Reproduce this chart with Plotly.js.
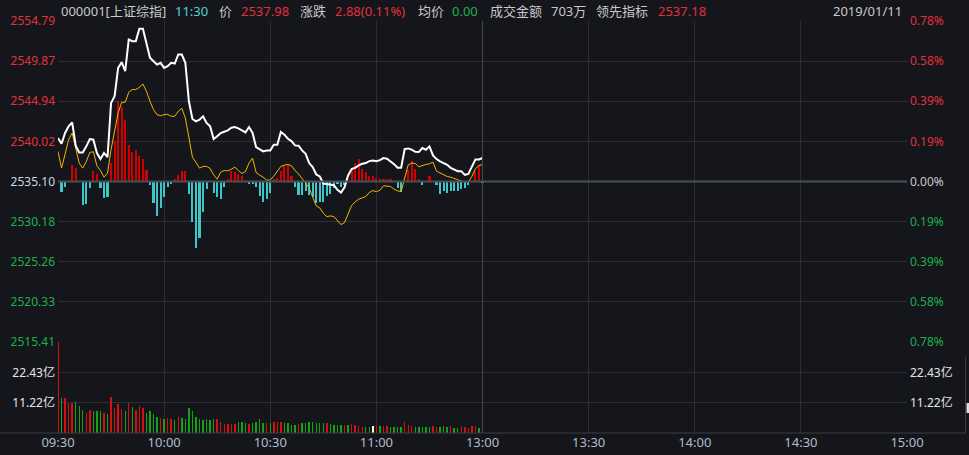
<!DOCTYPE html>
<html>
<head>
<meta charset="utf-8">
<script src="https://cdn.plot.ly/plotly-3.0.1.min.js"></script>
<style>
html,body{margin:0;padding:0;background:#14161b;}
#chart{width:969px;height:455px;}
</style>
</head>
<body>
<div id="chart"></div>
<script>
// ---- data ----
const timeLabels = ['09:30','10:00','10:30','11:00','13:00','13:30','14:00','14:30','15:00'];
const timeTicks = [0,30,60,90,120,150,180,210,240];
const prevClose = 2535.10;
const priceTicks = [2554.79,2549.87,2544.94,2540.02,2535.10,2530.18,2525.26,2520.33,2515.41];
const priceTickText = ['2554.79','2549.87','2544.94','2540.02','2535.10','2530.18','2525.26','2520.33','2515.41'];
const pctTickText = ['0.78%','0.58%','0.39%','0.19%','0.00%','0.19%','0.39%','0.58%','0.78%'];
const volTicks = [11.22,22.43];
const volTickText = ['11.22亿','22.43亿'];

const price = [2540.43,2539.73,2541.05,2541.87,2542.36,2539.49,2538.67,2538.67,2539.41,2540.31,
2540.23,2538.59,2537.85,2538.59,2538.09,2544.74,2545.56,2549.04,2549.74,2548.63,
2552.53,2552.32,2552.32,2553.84,2553.84,2552.12,2550.27,2549.86,2549.45,2549.66,
2549.04,2549.25,2549.66,2549.57,2550.68,2550.68,2549.66,2544.94,2542.77,2542.48,
2542.69,2543.10,2542.28,2541.87,2540.31,2540.64,2541.05,2541.21,2541.37,2541.70,
2541.78,2541.62,2541.33,2541.13,2541.78,2541.05,2539.32,2539.08,2538.79,2538.91,
2538.91,2539.61,2539.61,2541.17,2540.84,2540.35,2540.06,2539.53,2539.49,2538.91,
2538.50,2537.36,2536.86,2535.96,2535.72,2534.85,2534.77,2534.73,2534.65,2534.07,
2533.75,2534.40,2535.84,2536.62,2536.78,2537.07,2537.27,2537.36,2537.60,2537.68,
2537.60,2537.72,2537.97,2537.89,2537.56,2537.23,2536.78,2536.78,2539.08,2539.16,
2539.00,2538.75,2538.71,2539.20,2539.00,2539.41,2538.30,2537.85,2537.56,2537.31,
2537.15,2536.78,2536.54,2536.37,2536.37,2535.92,2536.04,2536.95,2537.81,2537.81,
2537.98];

const lead = [2538.79,2536.74,2538.46,2540.23,2541.05,2539.12,2537.36,2536.74,2537.56,2538.67,
2538.75,2537.03,2536.45,2535.63,2536.13,2539.00,2541.46,2543.51,2544.82,2544.82,
2546.05,2546.38,2546.38,2546.66,2547.07,2546.17,2544.94,2543.92,2543.30,2543.18,
2543.30,2543.34,2543.10,2543.10,2543.71,2544.08,2542.89,2540.43,2538.09,2537.44,
2536.74,2536.95,2536.95,2536.70,2535.92,2535.39,2536.25,2536.45,2536.41,2536.62,
2536.86,2536.45,2536.08,2536.33,2537.36,2537.97,2536.21,2535.88,2535.63,2535.26,
2535.28,2535.76,2536.33,2536.95,2537.11,2537.19,2537.03,2536.45,2536.04,2535.51,
2534.94,2534.32,2533.17,2532.11,2531.86,2531.20,2530.79,2530.88,2530.79,2530.30,
2529.81,2530.06,2531.00,2532.15,2532.60,2532.93,2533.09,2533.25,2533.75,2533.99,
2533.85,2534.03,2534.57,2534.49,2534.49,2534.16,2533.95,2533.87,2535.55,2537.15,
2537.36,2537.31,2536.90,2537.07,2537.19,2537.27,2537.48,2536.37,2536.17,2535.88,
2535.72,2535.63,2535.51,2535.31,2535.14,2535.10,2535.06,2535.72,2536.66,2537.07,
2537.18];

const force = [-0.10,-1.23,-0.62,0,2.05,1.64,-0.12,-2.87,-2.79,-0.82,
1.31,0.94,-0.82,-2.05,-1.85,2.26,4.92,9.92,9.14,7.59,
4.51,3.57,3.90,3.08,2.75,1.44,-0.49,-2.67,-4.18,-3.20,
-1.95,-0.62,-0.29,0.29,0.82,1.31,1.31,-1.56,-5.00,-8.20,
-6.97,-3.77,-0.94,0.08,-1.35,-1.85,-2.17,-0.62,0.33,1.23,
1.11,0.94,0.62,-0.12,-0.29,-0.29,-0.62,-1.72,-2.54,-2.17,
-1.40,0.33,0.45,1.35,1.97,1.97,0.62,-0.70,-1.60,-1.60,
-1.11,-1.60,-1.93,-2.67,-2.54,-2.54,-1.80,-1.52,-0.78,-0.29,
-0.62,-0.37,0,1.68,2.26,2.71,1.56,1.15,0.62,0.62,
0.45,0.33,0.33,0.33,0.33,0,-0.78,-1.31,0,1.44,
2.46,1.56,0.33,-0.37,0.12,0.62,-0.12,-0.49,-1.52,-1.19,
-1.44,-1.19,-1.19,-1.19,-0.90,-0.78,-0.49,-0.08,1.15,1.85,
-0.20];

const volume = [34,12.9,12.9,11.2,11.2,11.5,10.2,8.7,7.65,8.7,
8.3,8.3,8.3,7.65,7.1,13.3,9.4,10.7,8.9,8.3,
11.2,9.8,8.7,10.2,9.4,7.65,8.3,7.1,5.9,5.6,
5.2,5.5,5.2,4.8,5.9,5.6,5.2,9.4,8.3,6.0,
5.2,4.9,5.1,4.8,5.1,5.1,4.0,3.3,3.3,3.3,
3.3,4.2,4.2,3.8,3.3,3.8,4.2,5.1,3.6,3.6,
3.8,4.0,4.0,4.0,3.6,3.6,2.9,2.9,3.3,3.6,
3.6,4.2,4.0,3.6,3.6,3.6,3.6,3.3,2.9,2.9,
2.9,2.9,2.9,3.3,2.9,2.55,2.3,2.3,2.3,2.55,
2.55,2.55,2.55,2.55,2.3,2.3,2.3,2.3,4.0,2.9,
2.55,2.3,2.3,2.3,2.3,2.3,2.55,2.3,2.3,2.55,
2.3,2.55,1.9,1.9,2.55,2.3,1.9,2.55,2.55,1.9,
0.4];

// 1 = up (red), -1 = down (green), 0 = flat (white)
const volDir = [1,-1,1,1,1,-1,-1,-1,1,1,
-1,-1,-1,1,-1,1,1,1,1,-1,
1,-1,1,1,1,-1,-1,-1,-1,1,
-1,1,1,-1,1,-1,-1,-1,-1,-1,
-1,-1,-1,-1,-1,1,1,1,1,1,
1,-1,-1,-1,1,-1,-1,-1,-1,1,
-1,1,1,1,-1,-1,-1,-1,1,-1,
-1,-1,-1,-1,-1,-1,1,-1,-1,-1,
-1,1,-1,1,1,1,1,-1,-1,0,
1,-1,1,1,-1,-1,-1,-1,1,1,
1,-1,-1,-1,-1,-1,1,1,-1,-1,
-1,1,-1,-1,1,1,1,1,1,-1,
1];

// ---- build ----
const minutes = price.map((_, i) => i);
const RED = '#e3313b', GREEN = '#1fb04c', GRAY = '#c9c9c9';
const BG = '#14161b', GRID = '#2c2e33';
const FONT = "'Noto Sans', 'Noto Sans CJK SC', sans-serif";

const forceColors = force.map(v => v >= 0 ? '#d10000' : '#3ec6c8');
const volColors = volDir.map(d => d > 0 ? '#d41010' : (d < 0 ? '#13a313' : '#ffffff'));

const priceTickHtml = priceTicks.map((v, k) => {
  const c = v > prevClose ? RED : (v < prevClose ? GREEN : '#cbd6e8');
  return '<span style="color:' + c + '">' + priceTickText[k] + '</span>';
});
const pctTickHtml = priceTicks.map((v, k) => {
  const c = v > prevClose ? RED : (v < prevClose ? GREEN : GRAY);
  return '<span style="color:' + c + '">' + pctTickText[k] + '</span>';
});

const traces = [
  {type:'bar', x:minutes, y:force, base:prevClose, xaxis:'x', yaxis:'y',
   marker:{color:forceColors, line:{width:0}}, width:0.6, hoverinfo:'skip'},
  {type:'scatter', mode:'lines', x:minutes, y:lead, xaxis:'x', yaxis:'y',
   line:{color:'#f4b400', width:1}, hoverinfo:'skip'},
  {type:'scatter', mode:'lines', x:minutes, y:price, xaxis:'x', yaxis:'y',
   line:{color:'#ffffff', width:2}, hoverinfo:'skip'},
  {type:'bar', x:minutes, y:volume, xaxis:'x', yaxis:'y2',
   marker:{color:volColors, line:{width:0}}, width:0.4, hoverinfo:'skip'},
  {type:'scatter', mode:'markers', x:[0], y:[prevClose], xaxis:'x', yaxis:'y3',
   marker:{opacity:0}, hoverinfo:'skip'},
  {type:'scatter', mode:'markers', x:[0], y:[0], xaxis:'x', yaxis:'y4',
   marker:{opacity:0}, hoverinfo:'skip'}
];

const W = 849, H = 412, L = 58, T = 21;
const px = x => (x - L) / W;
const py = y => (T + H - y) / H;
const split = py(342);

const hdrY = py(11);
const hdr = [
  ['000001[上证综指]', 59, GRAY],
  ['11:30', 173, '#55d3d3'],
  ['价', 217, GRAY],
  ['2537.98', 239, RED],
  ['涨跌', 298, GRAY],
  ['2.88(0.11%)', 333, RED],
  ['均价', 416, GRAY],
  ['0.00', 450, GREEN],
  ['成交金额', 488, GRAY],
  ['703万', 549, GRAY],
  ['领先指标', 594, GRAY],
  ['2537.18', 656, RED],
  ['2019/01/11', 831, GRAY]
];
const annotations = hdr.map(h => ({
  text: h[0], xref:'paper', yref:'paper', x: px(h[1]), y: hdrY,
  xanchor:'left', yanchor:'middle', showarrow:false,
  font:{family:FONT, size:13, color:h[2]}
}));

const shapes = [
  {type:'line', xref:'x', yref:'y', x0:0, x1:240, y0:prevClose, y1:prevClose,
   line:{color:'#4b4e53', width:2}},
  {type:'line', xref:'x', yref:'paper', x0:120, x1:120, y0:0, y1:1,
   line:{color:'#45484d', width:1}},
  {type:'line', xref:'paper', yref:'paper', x0:px(0), x1:px(966), y0:0, y1:0,
   line:{color:'#3a3c41', width:1}},
  {type:'line', xref:'paper', yref:'paper', x0:px(965.5), x1:px(965.5), y0:0, y1:py(357),
   line:{color:'#3a3c41', width:1}},
  {type:'rect', xref:'paper', yref:'paper', x0:px(966.5), x1:px(969), y0:py(413), y1:py(403),
   fillcolor:'#dddddd', line:{width:0}}
];

const layout = {
  width:969, height:455,
  margin:{l:L, r:969 - L - W, t:T, b:455 - T - H, pad:0},
  paper_bgcolor:BG, plot_bgcolor:BG,
  showlegend:false, bargap:0,
  font:{family:FONT, size:12, color:GRAY},
  xaxis:{range:[0,240], tickvals:timeTicks, ticktext:timeLabels, showgrid:true, gridcolor:GRID,
    gridwidth:1, zeroline:false, showline:false, ticks:'', anchor:'y2',
    tickfont:{family:FONT, size:13, color:'#b3bccb'}, fixedrange:true},
  yaxis:{domain:[split,1], range:[priceTicks[priceTicks.length-1], priceTicks[0]],
    tickvals:priceTicks, ticktext:priceTickHtml, showgrid:true, gridcolor:GRID, zeroline:false,
    ticks:'', side:'left', anchor:'x', tickfont:{family:FONT, size:12}, ticklabelstandoff:2},
  yaxis3:{overlaying:'y', side:'right', range:[priceTicks[priceTicks.length-1], priceTicks[0]],
    tickvals:priceTicks, ticktext:pctTickHtml, showgrid:false, zeroline:false, ticks:'',
    anchor:'x', tickfont:{family:FONT, size:12}, ticklabelstandoff:2},
  yaxis2:{domain:[0,split], range:[0,34], tickvals:volTicks, ticktext:volTickText,
    showgrid:true, gridcolor:GRID, zeroline:false, ticks:'', anchor:'x', side:'left',
    tickfont:{family:FONT, size:12, color:'#e6e6e6'}, ticklabelstandoff:2},
  yaxis4:{overlaying:'y2', side:'right', range:[0,34], tickvals:volTicks, ticktext:volTickText,
    showgrid:false, zeroline:false, ticks:'', anchor:'x',
    tickfont:{family:FONT, size:12, color:'#e6e6e6'}, ticklabelstandoff:2},
  annotations: annotations,
  shapes: shapes
};

Plotly.newPlot('chart', traces, layout, {staticPlot:true, displayModeBar:false});
</script>
</body>
</html>
